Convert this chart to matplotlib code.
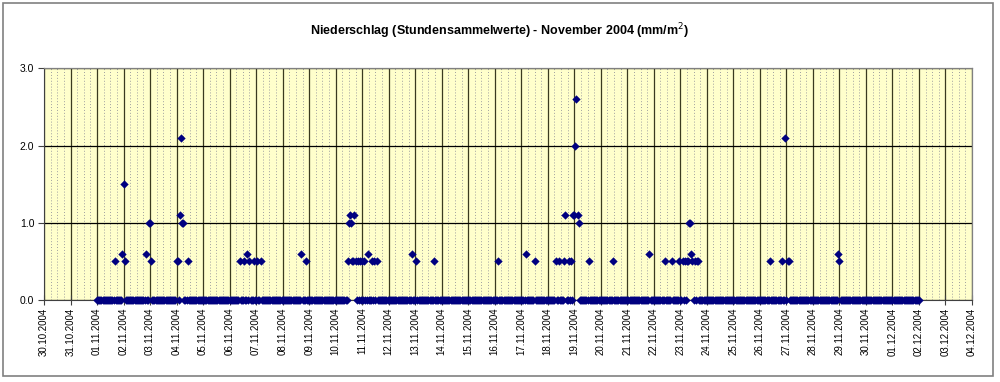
import matplotlib
matplotlib.use("Agg")
import matplotlib.pyplot as plt
import matplotlib.dates as mdates
from matplotlib.patches import Rectangle
from matplotlib.ticker import FixedLocator
import pandas as pd
import numpy as np

plt.rcParams['font.family'] = ['Liberation Sans', 'DejaVu Sans']

title = "Niederschlag (Stundensammelwerte) - November 2004 (mm/m$^2$)"

# series range (hourly readings; all hours not listed below are 0.0)
series_start = "2004-11-01 00:00"
series_end = "2004-12-02 00:00"

# non-zero hourly readings
rain_times = [
    "2004-11-01 16:00", "2004-11-01 23:00", "2004-11-02 00:00", "2004-11-02 01:00",
    "2004-11-02 20:00", "2004-11-02 23:00", "2004-11-03 00:00", "2004-11-03 01:00",
    "2004-11-04 00:00", "2004-11-04 01:00", "2004-11-04 03:00", "2004-11-04 04:00",
    "2004-11-04 05:00", "2004-11-04 06:00", "2004-11-04 10:00",
    "2004-11-06 09:00", "2004-11-06 13:00", "2004-11-06 16:00", "2004-11-06 18:00",
    "2004-11-06 22:00", "2004-11-07 01:00", "2004-11-07 04:00",
    "2004-11-08 17:00", "2004-11-08 21:00",
    "2004-11-10 11:00", "2004-11-10 12:00", "2004-11-10 13:00", "2004-11-10 14:00",
    "2004-11-10 15:00", "2004-11-10 16:00", "2004-11-10 17:00", "2004-11-10 18:00",
    "2004-11-10 20:00", "2004-11-10 22:00", "2004-11-11 00:00", "2004-11-11 02:00",
    "2004-11-11 05:00", "2004-11-11 09:00", "2004-11-11 11:00", "2004-11-11 13:00",
    "2004-11-12 21:00", "2004-11-13 01:00", "2004-11-13 17:00",
    "2004-11-16 03:00", "2004-11-17 04:00", "2004-11-17 12:00",
    "2004-11-18 07:00", "2004-11-18 10:00", "2004-11-18 15:00", "2004-11-18 16:00",
    "2004-11-18 19:00", "2004-11-18 21:00", "2004-11-18 23:00", "2004-11-19 00:00",
    "2004-11-19 01:00", "2004-11-19 02:00", "2004-11-19 03:00", "2004-11-19 04:00",
    "2004-11-19 13:00", "2004-11-20 11:00", "2004-11-21 20:00",
    "2004-11-22 10:00", "2004-11-22 16:00", "2004-11-22 23:00",
    "2004-11-23 02:00", "2004-11-23 04:00", "2004-11-23 06:00", "2004-11-23 07:00",
    "2004-11-23 08:00", "2004-11-23 09:00", "2004-11-23 10:00", "2004-11-23 11:00",
    "2004-11-23 13:00", "2004-11-23 15:00", "2004-11-23 16:00",
    "2004-11-26 09:00", "2004-11-26 20:00", "2004-11-26 23:00",
    "2004-11-27 01:00", "2004-11-27 02:00",
    "2004-11-28 23:00", "2004-11-29 00:00",
]
rain_values = [
    0.5, 0.6, 1.5, 0.5,
    0.6, 1.0, 1.0, 0.5,
    0.5, 0.5, 1.1, 2.1,
    1.0, 1.0, 0.5,
    0.5, 0.5, 0.6, 0.5,
    0.5, 0.5, 0.5,
    0.6, 0.5,
    0.5, 1.0, 1.1, 1.0,
    0.5, 0.5, 1.1, 0.5,
    0.5, 0.5, 0.5, 0.5,
    0.6, 0.5, 0.5, 0.5,
    0.6, 0.5, 0.5,
    0.5, 0.6, 0.5,
    0.5, 0.5, 0.5, 1.1,
    0.5, 0.5, 1.1, 1.1,
    2.0, 2.6, 1.1, 1.0,
    0.5, 0.5, 0.6,
    0.5, 0.5, 0.5,
    0.5, 0.5, 0.5, 0.5,
    1.0, 1.0, 0.6, 0.5,
    0.5, 0.5, 0.5,
    0.5, 0.5, 2.1,
    0.5, 0.5,
    0.6, 0.5,
]

x_start = "2004-10-30"
x_end = "2004-12-04"
y_ticks = [0.0, 1.0, 2.0, 3.0]

# build hourly series
idx = pd.date_range(series_start, series_end, freq="h")
s = pd.Series(0.0, index=idx)
for t, v in zip(rain_times, rain_values):
    s[pd.Timestamp(t)] = v

fig = plt.figure(figsize=(10, 3.82), dpi=100)
fig.patches.append(Rectangle((0.003, 0.016), 0.990, 0.976, transform=fig.transFigure,
                             fill=False, edgecolor='#808080', linewidth=1.2))
ax = fig.add_axes([0.044, 0.2147, 0.928, 0.6065])
ax.set_facecolor('#FFFFCC')

x0 = pd.Timestamp(x_start)
x1 = pd.Timestamp(x_end)
ax.set_xlim(x0, x1)
ax.set_ylim(0, 3.0)

days = pd.date_range(x0, x1, freq="D")
quarters = pd.date_range(x0, x1, freq="6h")
quarters = [q for q in quarters if q.hour != 0]

ax.xaxis.set_major_locator(FixedLocator(mdates.date2num(days)))
ax.xaxis.set_minor_locator(FixedLocator(mdates.date2num(quarters)))
ax.xaxis.set_major_formatter(mdates.DateFormatter("%d.%m.%Y"))
ax.set_yticks(y_ticks)
ax.set_yticklabels([f"{v:.1f}" for v in y_ticks])

ax.grid(which='minor', axis='x', color='#A0A0A0', linestyle=(0, (1, 2)), linewidth=0.7)
ax.grid(which='major', axis='x', color='#3a3a20', linestyle='-', linewidth=0.9)
ax.grid(which='major', axis='y', color='black', linestyle='-', linewidth=0.9)
ax.set_axisbelow(True)

ax.scatter(mdates.date2num(s.index), s.values, marker='D', s=18,
           color='#000080', linewidths=0, clip_on=False, zorder=3)

for sp in ['top', 'right']:
    ax.spines[sp].set_color('#808080')
    ax.spines[sp].set_linewidth(0.9)
ax.spines['left'].set_color('#404040')
ax.spines['bottom'].set_color('#404040')

ax.tick_params(axis='x', which='major', direction='inout', length=7, width=0.8,
               labelsize=7, labelrotation=90, pad=2, colors='#404040', labelcolor='black')
ax.tick_params(axis='x', which='minor', length=0)
ax.tick_params(axis='y', which='major', direction='out', length=4, width=0.8,
               labelsize=7.5, pad=3, colors='#404040', labelcolor='black')

fig.text(0.5, 0.918, title, ha='center', va='center', fontsize=9, fontweight='bold')

fig.savefig("out.png", dpi=100)
